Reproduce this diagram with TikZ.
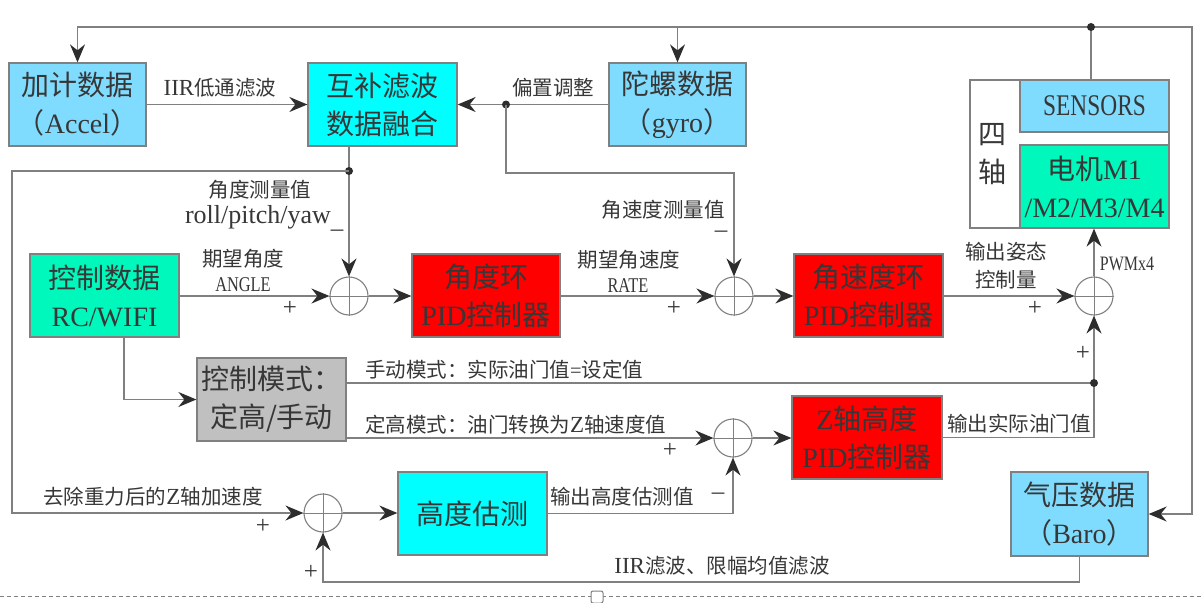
\documentclass[tikz,border=0pt]{standalone}
\usepackage{fontspec}
\setmainfont{Liberation Serif}
\newfontfamily\zhf{Noto Sans CJK SC}
\newfontfamily\condf[FakeStretch=0.78]{Liberation Serif}
\newcommand\zh[1]{{\zhf #1}}
\newcommand\lt[1]{{\fontsize{23}{28}\selectfont #1}}
\usetikzlibrary{arrows.meta}
\definecolor{lblue}{RGB}{128,220,255}
\definecolor{cyanb}{RGB}{0,255,255}
\definecolor{mint}{RGB}{0,248,188}
\definecolor{redb}{RGB}{255,0,0}
\definecolor{grayb}{RGB}{192,192,192}
\definecolor{lc}{RGB}{128,128,128}
\definecolor{ac}{RGB}{45,45,45}
\definecolor{tc}{RGB}{55,55,55}
\begin{document}
\begin{tikzpicture}[x=1pt,y=-1pt,
  blk/.style={draw=lc,line width=1.3pt,inner sep=0pt,align=center,text=tc,
    font=\fontsize{28}{38}\selectfont,minimum width=149pt,minimum height=83pt},
  lbl/.style={text=tc,inner sep=0pt,align=center,font=\fontsize{20.5}{28}\selectfont},
  sgn/.style={text=tc,inner sep=0pt,font=\fontsize{25}{28}\selectfont},
  wire/.style={draw=lc,line width=1.3pt},
  arr/.style={wire,-{Stealth[length=18pt,width=15pt,inset=6pt,color=ac]}},
  sumc/.style={circle,draw=lc,line width=1.1pt,minimum size=38pt,inner sep=0pt},
  dotc/.style={circle,fill=ac,minimum size=8pt,inner sep=0pt}]
\useasboundingbox (0,0) rectangle (1201,602);
\fill[white] (0,0) rectangle (1201,602);

% boxes
\node[blk,fill=lblue,minimum width=137pt] (acc) at (77.5,104.5) {\zh{加计数据}\\\zh{（}Accel\zh{）}};
\node[blk,fill=cyanb] (comp) at (382.5,104.5) {\zh{互补滤波}\\\zh{数据融合}};
\node[blk,fill=lblue,minimum width=137pt] (gyro) at (677.5,104.5) {\zh{陀螺数据}\\\zh{（}gyro\zh{）}};
\node[blk,fill=mint] (rc) at (104.5,295.5) {\zh{控制数据}\\RC/WIFI};
\node[blk,fill=redb,minimum width=148pt] (ang) at (486,295.5) {\zh{角度环}\\PID\zh{控制器}};
\node[blk,fill=redb] (rate) at (868.5,295.5) {\zh{角速度环}\\PID\zh{控制器}};
\node[blk,fill=grayb] (mode) at (271.5,399.5) {\zh{控制模式：}\\\zh{定高/手动}};
\node[blk,fill=redb,minimum width=150pt] (zpid) at (867,437.5) {Z\zh{轴高度}\\PID\zh{控制器}};
\node[blk,fill=cyanb] (alt) at (472.5,513.5) {\zh{高度估测}};
\node[blk,fill=lblue,minimum width=137pt,minimum height=84pt] (baro) at (1079.5,514) {\zh{气压数据}\\\zh{（}Baro\zh{）}};
\draw[draw=lc,line width=1.3pt,fill=white] (970,80) rectangle (1169,228);
\node[blk,fill=lblue,minimum height=52pt,font=\condf\fontsize{30}{34}\selectfont] (sens) at (1094.5,106) {SENSORS};
\node[blk,fill=mint] (motor) at (1094.5,186.5) {\zh{电机}M1\\/M2/M3/M4};
\node[lbl,font=\fontsize{28}{38}\selectfont] (quad) at (992,154) {\zh{四}\\\zh{轴}};

% summing junctions
\foreach \n/\p in {s1/{(349,296)},s2/{(734,296)},s4/{(1094,296)},s5/{(733,438)},s3/{(323,513)}}{
  \node[sumc] (\n) at \p {};
  \draw[lc,line width=1pt] (\n.north) -- (\n.south) (\n.west) -- (\n.east);
}

% coordinates
\coordinate (dTop) at (1091,27);
\coordinate (cR) at (1192,27);
\coordinate (dGyro) at (506,104.5);
\coordinate (gyroTurn) at (506,173);
\coordinate (dComp) at (349,171);
\coordinate (cL) at (12,171);
\coordinate (rcOut) at (124,337);
\coordinate (dMan) at (1094,383);
\coordinate (bLow) at (1079.5,582);

% top feedback
\draw[wire] (sens.north -| dTop) -- (dTop);
\draw[arr] (dTop) -- (cR) |- (baro.east);
\draw[arr] (dTop) -| (acc.north);
\draw[arr] (gyro.north |- dTop) -- (gyro.north);
\node[dotc] at (dTop) {};

% sensor fusion
\draw[arr] (acc) -- (comp);
\draw[arr] (gyro) -- (comp);
\node[dotc] at (dGyro) {};
\draw[arr] (dGyro) -- (gyroTurn) -| (s2.north);
\draw[arr] (s1 |- comp.south) -- (s1.north);
\node[dotc] at (dComp) {};
\draw[arr] (dComp) -- (cL) |- (s3.west);

% main loop
\draw[arr] (rc.east |- s1) -- (s1.west);
\draw[arr] (s1.east) -- (ang.west |- s1);
\draw[arr] (ang.east |- s2) -- (s2.west);
\draw[arr] (s2.east) -- (rate.west |- s2);
\draw[arr] (rate.east |- s4) -- (s4.west);
\draw[arr] (s4.north) -- (motor.south -| s4);

% mode branch
\draw[arr] (rcOut) |- (mode.west);
\draw[wire] (mode.east |- dMan) -- (dMan);
\draw[arr] (dMan) -- (s4.south);
\draw[wire] (zpid.east) -| (dMan);
\node[dotc] at (dMan) {};
\draw[arr] (mode.east |- s5) -- (s5.west);
\draw[arr] (s5.east) -- (zpid.west |- s5);

% altitude
\draw[arr] (s3.east) -- (alt.west |- s3);
\draw[arr] (alt.east) -| (s5.south);
\draw[arr] (baro.south) -- (bLow) -| (s3.south);

% labels
\node[lbl] at (220,88) {\lt{IIR}\zh{低通滤波}};
\node[lbl] at (553,88) {\zh{偏置调整}};
\node[lbl] at (260,190) {\zh{角度测量值}};
\node[lbl,font=\fontsize{26}{30}\selectfont] at (258,217) {roll/pitch/yaw};
\node[sgn] at (337,233) {--};
\node[lbl] at (663,210) {\zh{角速度测量值}};
\node[sgn] at (721,234) {--};
\node[lbl] at (243,259) {\zh{期望角度}};
\node[lbl,font=\condf\fontsize{21}{24}\selectfont] at (243,285) {ANGLE};
\node[sgn] at (290,308) {+};
\node[lbl] at (629,260) {\zh{期望角速度}};
\node[lbl,font=\condf\fontsize{21}{24}\selectfont] at (628,286) {RATE};
\node[sgn] at (674,308) {+};
\node[lbl] at (1006,266) {\zh{输出姿态}\\\zh{控制量}};
\node[sgn] at (1035,308) {+};
\node[lbl,font=\condf\fontsize{20.5}{24}\selectfont] at (1127,264) {PWMx4};
\node[sgn] at (1083,353) {+};
\node[lbl,anchor=west] at (365,370) {\zh{手动模式：实际油门值}=\zh{设定值}};
\node[lbl,anchor=west] at (365,425) {\zh{定高模式：油门转换为}\lt{Z}\zh{轴速度值}};
\node[sgn] at (670,450) {+};
\node[lbl] at (1019,424) {\zh{输出实际油门值}};
\node[lbl] at (153,497) {\zh{去除重力后的}\lt{Z}\zh{轴加速度}};
\node[sgn] at (263,526) {+};
\node[lbl] at (622,497) {\zh{输出高度估测值}};
\node[sgn] at (718,496) {--};
\node[sgn] at (311,572) {+};
\node[lbl] at (722,566) {\lt{IIR}\zh{滤波、限幅均值滤波}};

% page edge
\draw[lc,line width=1pt,dash pattern=on 4pt off 3pt] (0,596) -- (1201,596);
\draw[lc,line width=1pt,fill=white,rounded corners=2pt] (591,591) rectangle (603,603);
\end{tikzpicture}
\end{document}
